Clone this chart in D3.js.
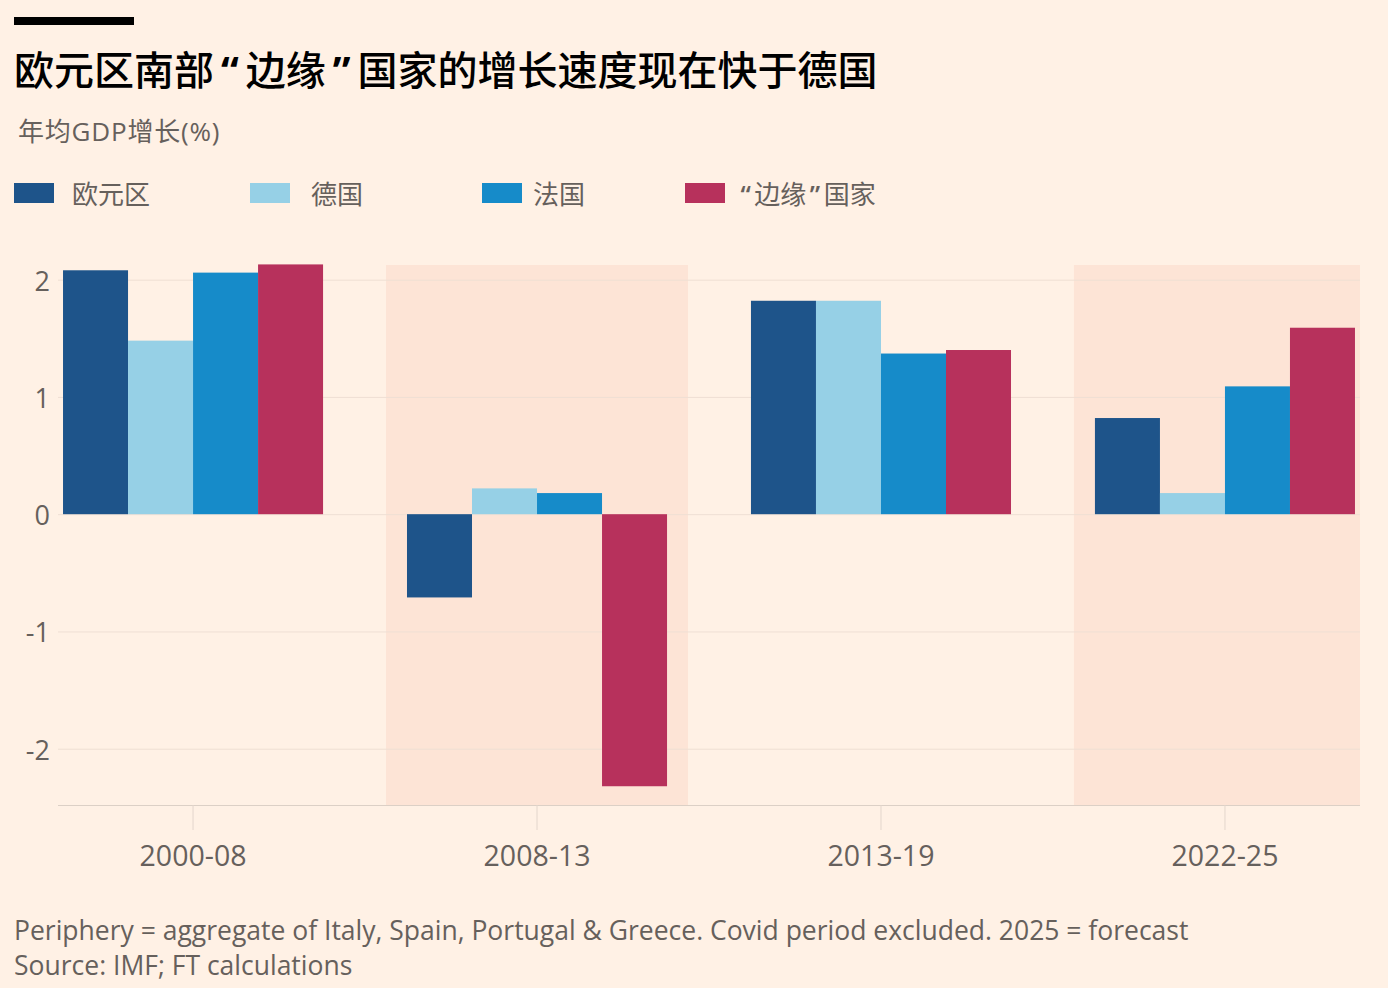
<!DOCTYPE html>
<html>
<head>
<meta charset="utf-8">
<script src="https://cdn.jsdelivr.net/npm/d3@7/dist/d3.min.js"></script>
<style>
  html, body { margin: 0; padding: 0; background: #fff1e5; }
  svg { display: block; }
</style>
</head>
<body>
<svg id="chart" width="1388" height="988"></svg>
<script>
// ---------- DATA ----------
const categories = ["2000-08", "2008-13", "2013-19", "2022-25"];
const seriesNames = ["欧元区", "德国", "法国", "“边缘”国家"];
const eurozone  = [2.08, -0.71, 1.82, 0.82];
const germany   = [1.48, 0.22, 1.82, 0.18];
const france    = [2.06, 0.18, 1.37, 1.09];
const periphery = [2.13, -2.32, 1.40, 1.59];
const yTicks = [-2, -1, 0, 1, 2];
const shadedCategories = ["2008-13", "2022-25"];
const titleText = "欧元区南部“边缘”国家的增长速度现在快于德国";
const subtitleText = "年均GDP增长(%)";
const footnoteText = "Periphery = aggregate of Italy, Spain, Portugal & Greece. Covid period excluded. 2025 = forecast";
const sourceText = "Source: IMF; FT calculations";

// ---------- STYLE ----------
const colors = ["#1e548a", "#96d0e6", "#168bc9", "#b7315c"];
const seriesValues = [eurozone, germany, france, periphery];
const mixed = "'Open Sans', 'Noto Sans CJK SC', sans-serif";
const latin = "'Open Sans', 'Noto Sans', sans-serif";
const textGrey = "#66605c";

const svg = d3.select("#chart");
svg.append("rect").attr("width", 1388).attr("height", 988).attr("fill", "#fff1e5");

// write text, giving curly quotes some breathing room (proportional quotes as in the original)
function quotedText(sel, str, pad, qWeight) {
  let extra = 0;
  for (const ch of str) {
    const isQ = ch === "“" || ch === "”";
    const ts = sel.append("tspan").attr("dx", (isQ ? pad : 0) + extra).text(ch);
    if (isQ && qWeight) ts.style("font-weight", qWeight);
    extra = isQ ? pad : 0;
  }
}

// header bar
svg.append("rect").attr("x", 14).attr("y", 17).attr("width", 120).attr("height", 8).attr("fill", "#000");

const title = svg.append("text").attr("x", 14).attr("y", 69)
  .attr("dominant-baseline", "central")
  .style("font-family", mixed).style("font-size", "40px").style("font-weight", 500)
  .attr("fill", "#000");
quotedText(title, titleText, 7, 700);

svg.append("text").attr("x", 18).attr("y", 131)
  .attr("dominant-baseline", "central")
  .style("font-family", mixed).style("font-size", "26px").style("letter-spacing", "0.8px")
  .attr("fill", textGrey).text(subtitleText);

// legend
const legendX = [14, 250, 482, 685];
const legendTextX = [72, 311, 533, 737];
const legend = svg.append("g");
seriesNames.forEach((name, i) => {
  legend.append("rect").attr("x", legendX[i]).attr("y", 183).attr("width", 40).attr("height", 20).attr("fill", colors[i]);
  const t = legend.append("text").attr("x", legendTextX[i]).attr("y", 194)
    .attr("dominant-baseline", "central")
    .style("font-family", mixed).style("font-size", "26px")
    .attr("fill", textGrey);
  if (i === 3) quotedText(t, name, 3.5, 600); else t.text(name);
});

// ---------- SCALES ----------
const plotLeft = 58, plotRight = 1360, plotTop = 265, plotBottom = 805;
const x = d3.scaleBand().domain(categories).range([plotLeft, plotRight])
  .paddingInner(0.244).paddingOuter(0.0146);
const xSub = d3.scaleBand().domain(d3.range(seriesNames.length)).range([0, x.bandwidth()]).padding(0);
const y = d3.scaleLinear().domain([-2.48, 2.125]).range([plotBottom, plotTop]);

const g = svg.append("g");

// shading
const shadeW = x.step() * 0.878;
const shadeL = d => Math.max(plotLeft, x(d) + x.bandwidth() / 2 - shadeW / 2);
const shadeR = d => Math.min(plotRight, x(d) + x.bandwidth() / 2 + shadeW / 2);
g.selectAll("rect.shade").data(shadedCategories).join("rect")
  .attr("class", "shade")
  .attr("x", shadeL)
  .attr("width", d => shadeR(d) - shadeL(d))
  .attr("y", plotTop).attr("height", plotBottom - plotTop)
  .attr("fill", "#fde4d6");

// gridlines + y labels
const yAxis = d3.axisLeft(y).tickValues(yTicks).tickSize(-(plotRight - plotLeft)).tickFormat(d3.format("d"));
const yg = g.append("g").attr("transform", `translate(${plotLeft},0)`).call(yAxis);
yg.select(".domain").remove();
yg.selectAll(".tick line").attr("stroke", "#efdfd4").attr("stroke-width", 1);
yg.selectAll(".tick text").attr("x", -8).attr("dy", null).attr("dominant-baseline", "central")
  .style("font-family", latin).style("font-size", "27px").attr("fill", textGrey)
  .text(d => d < 0 ? "-" + Math.abs(d) : d);

// bars
categories.forEach((cat, ci) => {
  const grp = g.append("g").attr("transform", `translate(${x(cat)},0)`);
  seriesValues.forEach((vals, si) => {
    const v = vals[ci];
    grp.append("rect")
      .attr("x", xSub(si)).attr("width", xSub.bandwidth())
      .attr("y", y(Math.max(0, v))).attr("height", Math.abs(y(v) - y(0)))
      .attr("fill", colors[si]);
  });
});

// x axis
const xAxis = d3.axisBottom(x).tickSize(25).tickPadding(12);
const xg = g.append("g").attr("transform", `translate(0,${plotBottom})`).call(xAxis);
xg.select(".domain").attr("stroke", "#dcd0c6").attr("d", `M${plotLeft},0.5H${plotRight}`);
xg.selectAll(".tick line").attr("stroke", "#e3d6cc");
xg.selectAll(".tick text").attr("y", 50).attr("dy", null).attr("dominant-baseline", "central")
  .style("font-family", latin).style("font-size", "28.5px").attr("fill", textGrey);

// footer
svg.append("text").attr("x", 14).attr("y", 930).attr("dominant-baseline", "central")
  .style("font-family", latin).style("font-size", "26.5px").attr("fill", textGrey).text(footnoteText);
svg.append("text").attr("x", 14).attr("y", 965).attr("dominant-baseline", "central")
  .style("font-family", latin).style("font-size", "26.5px").attr("fill", textGrey).text(sourceText);
</script>
</body>
</html>
